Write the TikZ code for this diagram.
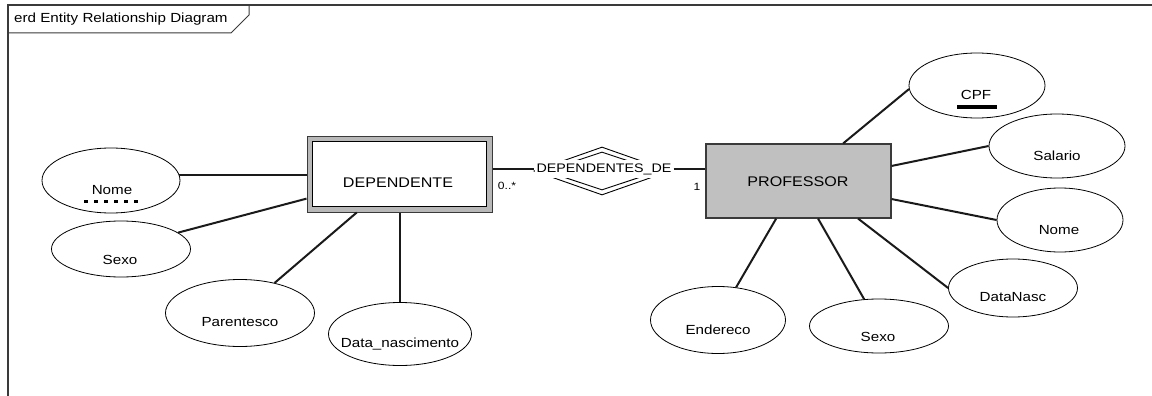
\documentclass[tikz,border=0pt]{standalone}
\usepackage{fontspec}
\setmainfont{Liberation Sans}[FakeStretch=1.15]
\usetikzlibrary{shapes.geometric,calc}
\definecolor{framec}{HTML}{3A3A3A}
\definecolor{entgray}{HTML}{C0C0C0}
\definecolor{depgray}{HTML}{B8B8B8}
\definecolor{connc}{HTML}{1A1A1A}
\begin{document}
\begin{tikzpicture}[x=1pt,y=-1pt,
  attr/.style={ellipse, draw=black, line width=0.8pt, fill=white, inner sep=0pt},
  attrtxt/.style={font=\fontsize{13.2}{15}\selectfont, inner sep=0pt, anchor=center},
  enttxt/.style={font=\fontsize{14}{16}\selectfont, inner sep=0pt, anchor=center},
  smalltxt/.style={font=\fontsize{10.5}{12}\selectfont, inner sep=0pt, anchor=center},
  conn/.style={draw=connc, line width=2pt},
  framel/.style={draw=framec, line width=1.6pt},
  ]
\useasboundingbox (0,0) rectangle (1152,396);
% frame
\draw[framel] (8,396) -- (8,5) -- (1152,5);
\draw[draw=framec, line width=1pt] (8,33) -- (231,33) -- (249,15) -- (249,5);
\node[font=\fontsize{13.2}{15}\selectfont, anchor=west, inner sep=0pt] (title) at (14,19) {erd Entity Relationship Diagram};

% relationship diamond
\node[diamond, draw=black, line width=0.9pt, minimum width=136pt, minimum height=48pt, inner sep=0pt] (reld) at (602,171) {};
\node[diamond, draw=black, line width=0.9pt, minimum width=114pt, minimum height=38pt, inner sep=0pt] (reldi) at (602,171) {};

% entities
\node[draw=framec, line width=1pt, fill=depgray, minimum width=185pt, minimum height=76pt, inner sep=0pt] (dep) at (399.5,174) {};
\node[draw=black, line width=1pt, fill=white, minimum width=174pt, minimum height=65pt, inner sep=0pt] (depin) at (399.5,174) {};
\node[enttxt] (deptxt) at (398,183) {DEPENDENTE};
\node[draw=framec, line width=1.2pt, fill=entgray, minimum width=185pt, minimum height=74pt, inner sep=0pt] (prof) at (798.5,181) {};
\node[enttxt] (proftxt) at (798,182) {PROFESSOR};

\node[font=\fontsize{12.4}{14}\selectfont, fill=white, inner xsep=2pt, inner ysep=3pt] (rel) at (604,169) {DEPENDENTES\_DE};
\draw[conn] (rel.west -| dep.east) -- (rel.west);
\draw[conn] (rel.east) -- (rel.east -| prof.west);
\node[smalltxt] (cardd) at (507,186) {0..*};
\node[smalltxt] (cardp) at (697,187) {1};

% attributes of DEPENDENTE
\node[attr, minimum width=138pt, minimum height=65pt] (nomeL) at (111,180.5) {};
\node[attrtxt] (nomeLt) at (112,190) {Nome};
\draw[line width=3pt, dash pattern=on 4pt off 6pt] (84,201) -- (138,201);
\node[attr, minimum width=139pt, minimum height=56pt] (sexoL) at (121,249) {};
\node[attrtxt] (sexoLt) at (120,260) {Sexo};
\node[attr, minimum width=149pt, minimum height=67pt] (par) at (240,313) {};
\node[attrtxt] (part) at (240,322) {Parentesco};
\node[attr, minimum width=143pt, minimum height=63pt] (dob) at (400,334) {};
\node[attrtxt] (dobt) at (400,344) {Data\_nascimento};

\draw[conn] (nomeL.5) -- (nomeL.5 -| dep.west);
\draw[conn] (sexoL.16) -- ($(dep.south west)!0.18!(dep.north west)$);
\draw[conn] (par.41) -- ($(dep.south west)!0.27!(dep.south east)$);
\draw[conn] (dob.north |- dep.south) -- (dob.north);

% attributes of PROFESSOR
\node[attr, minimum width=136pt, minimum height=65pt] (cpf) at (977,85.5) {};
\node[attrtxt] (cpft) at (976,95) {CPF};
\draw[line width=3pt] (957,107) -- (997,107);
\node[attr, minimum width=136pt, minimum height=64pt] (sal) at (1057,146) {};
\node[attrtxt] (salt) at (1057,156) {Salario};
\node[attr, minimum width=126pt, minimum height=64pt] (nomeR) at (1060,220) {};
\node[attrtxt] (nomeRt) at (1059,230) {Nome};
\node[attr, minimum width=129pt, minimum height=58pt] (dnasc) at (1013,288) {};
\node[attrtxt] (dnasct) at (1013,297) {DataNasc};
\node[attr, minimum width=139pt, minimum height=54pt] (sexoR) at (879,326) {};
\node[attrtxt] (sexoRt) at (878,337) {Sexo};
\node[attr, minimum width=135pt, minimum height=67pt] (endr) at (718,320) {};
\node[attrtxt] (endrt) at (718,330) {Endereco};

\draw[conn] ($(prof.north west)!0.74!(prof.north east)$) -- (cpf.183);
\draw[conn] ($(prof.north east)!0.30!(prof.south east)$) -- (sal.west);
\draw[conn] ($(prof.north east)!0.74!(prof.south east)$) -- (nomeR.west);
\draw[conn] ($(prof.south west)!0.82!(prof.south east)$) -- (dnasc.west);
\draw[conn] ($(prof.south west)!0.605!(prof.south east)$) -- (sexoR.119);
\draw[conn] ($(prof.south west)!0.38!(prof.south east)$) -- (endr.61);
\end{tikzpicture}
\end{document}
